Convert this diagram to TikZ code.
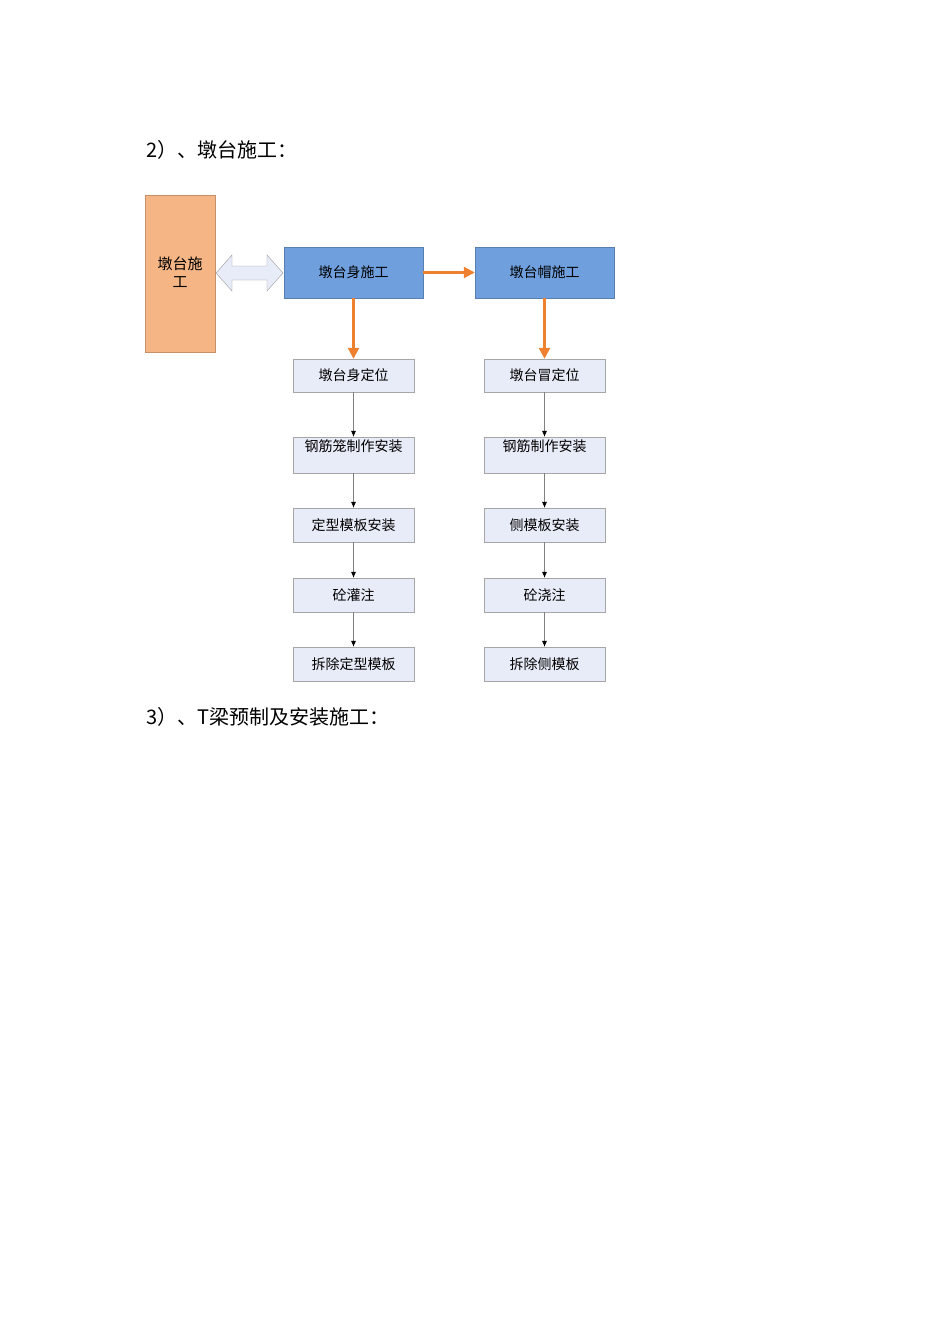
\documentclass[tikz,border=0pt]{standalone}
\usepackage{fontspec}
\setmainfont{Noto Sans CJK SC}
\usetikzlibrary{arrows.meta}
\definecolor{org}{HTML}{F5B584}
\definecolor{blu}{HTML}{6F9FDC}
\definecolor{lbox}{HTML}{E8ECF8}
\definecolor{arr}{HTML}{EE8130}
\tikzset{x=1pt,y=-1pt,
 sbox/.style={draw=gray!70,fill=lbox,minimum width=121pt,font=\fontsize{14}{16}\selectfont,inner sep=0pt},
 bbox/.style={draw=blu!80!black,fill=blu,minimum width=139pt,minimum height=51pt,font=\fontsize{14}{16}\selectfont},
 oarr/.style={draw=arr,line width=2.5pt,-{Triangle[length=11pt,width=11pt]}},
 tarr/.style={draw=gray,line width=0.5pt,-{Latex[length=6pt,width=5pt,black]}},
 head/.style={anchor=west,font=\fontsize{20}{24}\selectfont}}
\begin{document}
\begin{tikzpicture}
\useasboundingbox (0,0) rectangle (950,1344);
\node[head] (h2) at (143,150) {2）、墩台施工：};
\node[head] (h3) at (143,717) {3）、T梁预制及安装施工：};
\node[draw=org!80!black,fill=org,minimum width=70pt,minimum height=157pt,anchor=north west,inner sep=0pt] (o) at (145,195) {};
\node[font=\fontsize{15}{18}\selectfont,align=center] (ot) at (180,272) {墩台施\\工};
\node[bbox] (b1) at (353.5,272.5) {墩台身施工};
\node[bbox] (b2) at (544.5,272.5) {墩台帽施工};
\draw[draw=gray!80,fill=lbox] (216,273) -- (232,255) -- (232,266) -- (267,266) -- (267,255) -- (283,273) -- (267,291) -- (267,280) -- (232,280) -- (232,291) -- cycle;
\draw[oarr] (b1.east) -- (b2.west);
\foreach \c/\x/\a/\b/\cc/\d/\e in {l/353.5/墩台身定位/钢筋笼制作安装/定型模板安装/砼灌注/拆除定型模板, r/544.5/墩台冒定位/钢筋制作安装/侧模板安装/砼浇注/拆除侧模板}{
 \node[sbox,minimum height=33pt] (\c1) at (\x,375.5) {\a};
 \node[sbox,minimum height=36pt] (\c2) at (\x,455) {};
 \node[font=\fontsize{14}{16}\selectfont] (\c2t) at (\x,446) {\b};
 \node[sbox,minimum height=34pt] (\c3) at (\x,525) {\cc};
 \node[sbox,minimum height=34pt] (\c4) at (\x,595) {\d};
 \node[sbox,minimum height=34pt] (\c5) at (\x,664) {\e};
 \draw[tarr] (\c1) -- (\c2);
 \draw[tarr] (\c2) -- (\c3);
 \draw[tarr] (\c3) -- (\c4);
 \draw[tarr] (\c4) -- (\c5);
}
\draw[oarr] (b1.south) -- (l1.north);
\draw[oarr] (b2.south) -- (r1.north);
\end{tikzpicture}
\end{document}
